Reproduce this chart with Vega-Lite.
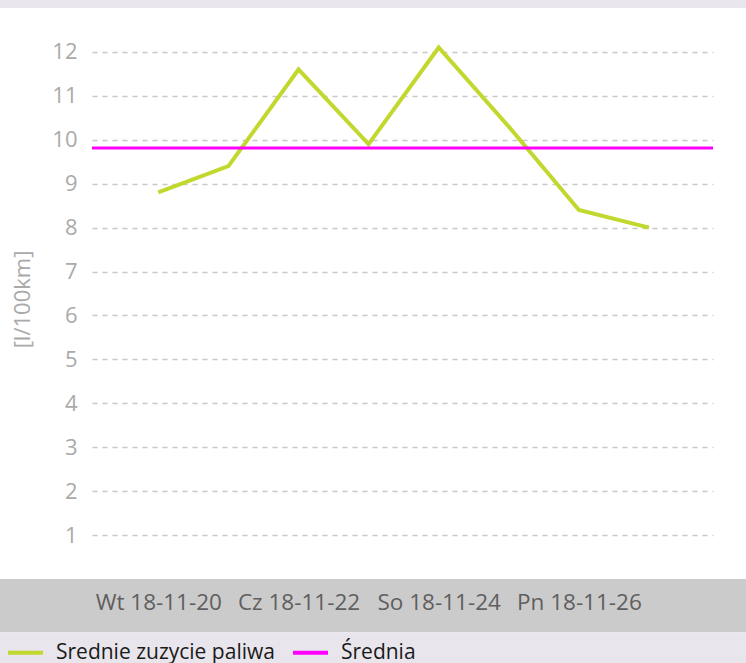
{
  "$schema": "https://vega.github.io/schema/vega-lite/v6.json",
  "width": 621,
  "height": 571,
  "autosize": {"type": "none"},
  "padding": {"left": 92, "top": 8, "right": 33, "bottom": 84},
  "background": "white",
  "config": {
    "view": {"stroke": null},
    "font": "Open Sans",
    "legend": {"zindex": 1}
  },
  "data": {
    "values": [
      {"date": "2018-11-20", "value": 8.8},
      {"date": "2018-11-21", "value": 9.4},
      {"date": "2018-11-22", "value": 11.6},
      {"date": "2018-11-23", "value": 9.9},
      {"date": "2018-11-24", "value": 12.1},
      {"date": "2018-11-25", "value": 10.3},
      {"date": "2018-11-26", "value": 8.4},
      {"date": "2018-11-27", "value": 8.0}
    ]
  },
  "layer": [
    {
      "data": {"values": [{}]},
      "mark": {"type": "rect", "color": "#e8e6ec", "clip": false},
      "encoding": {
        "x": {"datum": {"year": 2018, "month": 11, "date": 10, "utc": true}, "type": "temporal", "title": null, "scale": {"type": "utc", "domain": [{"year": 2018, "month": 11, "date": 19, "hours": 1, "minutes": 18, "utc": true}, {"year": 2018, "month": 11, "date": 27, "hours": 21, "minutes": 55, "utc": true}], "nice": false}},
        "x2": {"datum": {"year": 2018, "month": 12, "date": 8, "utc": true}},
        "y": {"datum": 13, "type": "quantitative", "title": "[l/100km]", "scale": {"domain": [0, 13], "nice": false}},
        "y2": {"datum": 15}
      }
    },
    {
      "data": {"values": [{}]},
      "mark": {"type": "rect", "color": "#cbcbcb", "clip": false},
      "encoding": {
        "x": {"datum": {"year": 2018, "month": 11, "date": 10, "utc": true}, "type": "temporal", "title": null, "scale": {"type": "utc", "domain": [{"year": 2018, "month": 11, "date": 19, "hours": 1, "minutes": 18, "utc": true}, {"year": 2018, "month": 11, "date": 27, "hours": 21, "minutes": 55, "utc": true}], "nice": false}},
        "x2": {"datum": {"year": 2018, "month": 12, "date": 8, "utc": true}},
        "y": {"datum": 0, "type": "quantitative", "title": "[l/100km]", "scale": {"domain": [0, 13], "nice": false}},
        "y2": {"datum": -1.21}
      }
    },
    {
      "data": {"values": [{}]},
      "mark": {"type": "rect", "color": "#e8e6ec", "clip": false},
      "encoding": {
        "x": {"datum": {"year": 2018, "month": 11, "date": 10, "utc": true}, "type": "temporal", "title": null, "scale": {"type": "utc", "domain": [{"year": 2018, "month": 11, "date": 19, "hours": 1, "minutes": 18, "utc": true}, {"year": 2018, "month": 11, "date": 27, "hours": 21, "minutes": 55, "utc": true}], "nice": false}},
        "x2": {"datum": {"year": 2018, "month": 12, "date": 8, "utc": true}},
        "y": {"datum": -1.21, "type": "quantitative", "title": "[l/100km]", "scale": {"domain": [0, 13], "nice": false}},
        "y2": {"datum": -3}
      }
    },
    {
      "mark": {"type": "line", "strokeWidth": 4, "strokeJoin": "miter", "strokeCap": "butt"},
      "encoding": {
        "x": {
          "field": "date",
          "type": "temporal",
          "title": null,
          "scale": {"type": "utc", "domain": [{"year": 2018, "month": 11, "date": 19, "hours": 1, "minutes": 18, "utc": true}, {"year": 2018, "month": 11, "date": 27, "hours": 21, "minutes": 55, "utc": true}], "nice": false},
          "axis": {
            "values": [
              {"year": 2018, "month": 11, "date": 20, "utc": true},
              {"year": 2018, "month": 11, "date": 22, "utc": true},
              {"year": 2018, "month": 11, "date": 24, "utc": true},
              {"year": 2018, "month": 11, "date": 26, "utc": true}
            ],
            "labelExpr": "['Nd','Pn','Wt','Śr','Cz','Pt','So'][utcday(datum.value)] + ' ' + utcFormat(datum.value, '%y-%m-%d')",
            "domain": false,
            "ticks": false,
            "tickSize": 0,
            "grid": false,
            "labelFontSize": 22.5,
            "labelColor": "#5f5f5f",
            "labelFont": "Open Sans",
            "labelPadding": 12,
            "labelOverlap": false,
            "labelFlush": false,
            "labelBound": false,
            "zindex": 1
          }
        },
        "y": {
          "field": "value",
          "type": "quantitative",
          "title": "[l/100km]",
          "scale": {"domain": [0, 13], "nice": false},
          "axis": {
            "values": [1, 2, 3, 4, 5, 6, 7, 8, 9, 10, 11, 12],
            "domain": false,
            "ticks": false,
            "tickSize": 0,
            "grid": true,
            "gridColor": "#c8c8c8",
            "gridDash": [5, 5],
            "gridWidth": 1.5,
            "labelFontSize": 22,
            "labelColor": "#aaaaaa",
            "labelFont": "Open Sans",
            "labelPadding": 15,
            "titleFontSize": 22,
            "titleFontWeight": "normal",
            "titleColor": "#aaaaaa",
            "titleFont": "Open Sans",
            "titlePadding": 17,
            "titleY": 291
          }
        },
        "color": {
          "datum": "Srednie zuzycie paliwa",
          "type": "nominal",
          "scale": {"domain": ["Srednie zuzycie paliwa", "Średnia"], "range": ["#c3d82f", "#ff00ff"]},
          "legend": {
            "orient": "none",
            "legendX": -86,
            "legendY": 625,
            "direction": "horizontal",
            "title": null,
            "symbolType": "stroke",
            "symbolSize": 1225,
            "symbolStrokeWidth": 4,
            "labelFontSize": 21,
            "labelColor": "#1a1a1a",
            "labelFont": "Open Sans",
            "labelOffset": 11,
            "labelLimit": 400,
            "columnPadding": 10,
            "padding": 0,
            "zindex": 1
          }
        }
      }
    },
    {
      "mark": {"type": "rule", "strokeWidth": 3},
      "encoding": {
        "y": {"aggregate": "mean", "field": "value", "type": "quantitative", "title": "[l/100km]", "scale": {"domain": [0, 13], "nice": false}},
        "color": {"datum": "Średnia", "type": "nominal"}
      }
    }
  ]
}
